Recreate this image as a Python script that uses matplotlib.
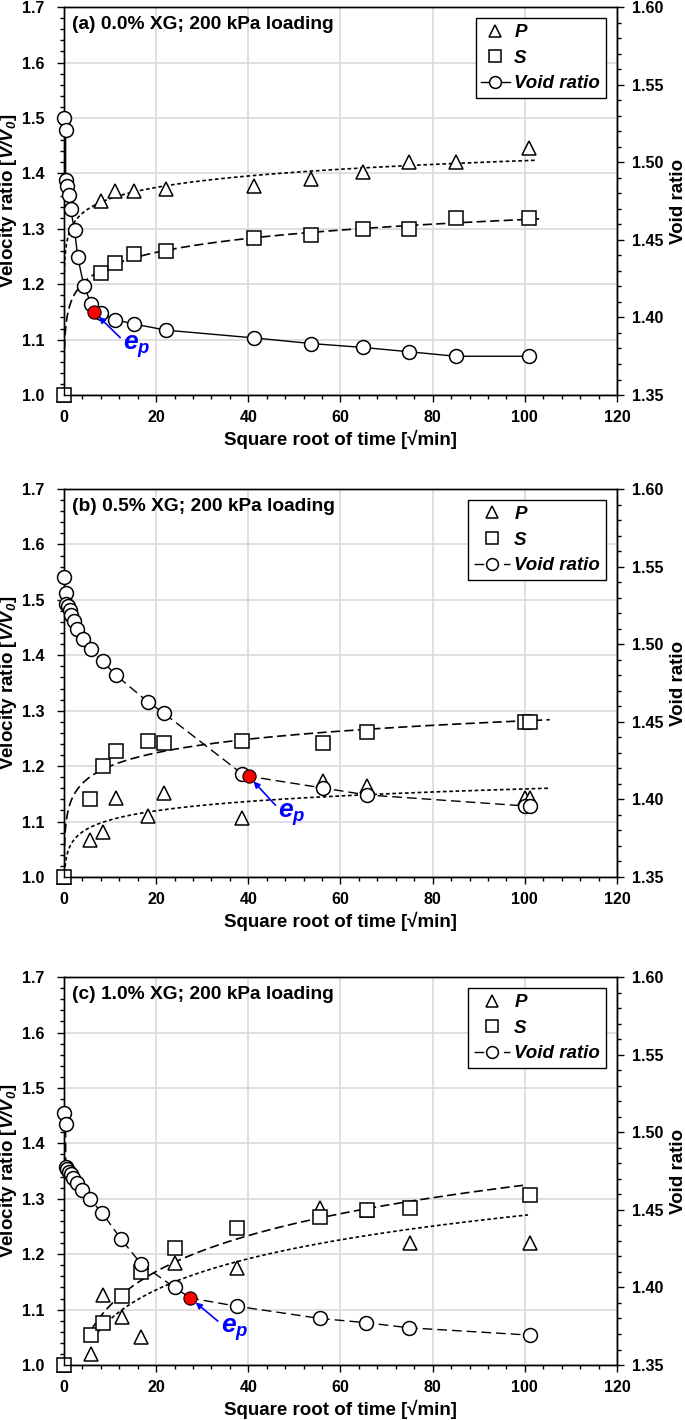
import numpy as np
import matplotlib as mpl
mpl.use('Agg')
import matplotlib.pyplot as plt
from matplotlib.lines import Line2D
from matplotlib.font_manager import FontProperties
from matplotlib.ticker import MultipleLocator, FormatStrFormatter

# ---- panel (a): 0.0% XG ----
a_t_vel = [0, 8.1, 11.0, 15.3, 22.2, 41.3, 53.6, 64.8, 74.9, 85.0, 100.9]
a_p = [1.0, 1.351, 1.368, 1.369, 1.372, 1.378, 1.389, 1.403, 1.420, 1.420, 1.446]
a_s = [1.0, 1.220, 1.239, 1.255, 1.260, 1.284, 1.288, 1.299, 1.299, 1.319, 1.319]
a_t_void = [0, 0.36, 0.36, 0.7, 1.0, 1.44, 2.3, 3.0, 4.3, 5.9, 6.5, 8.1, 11.0,
            15.3, 22.2, 41.3, 53.6, 64.8, 74.9, 85.0, 100.9]
a_void = [1.5287, 1.5210, 1.4884, 1.4846, 1.4786, 1.4696, 1.4561, 1.4389, 1.4204,
          1.4089, 1.4036, 1.4029, 1.3986, 1.3957, 1.3918, 1.3868, 1.3832, 1.3807,
          1.3779, 1.3750, 1.3750]
a_ep = 10  # index of e_p in a_void

# ---- panel (b): 0.5% XG ----
b_t_vel = [0, 5.7, 8.4, 11.3, 18.3, 21.6, 38.6, 56.1, 65.7, 100.0, 101.1]
b_p = [1.0, 1.067, 1.082, 1.143, 1.110, 1.152, 1.107, 1.173, 1.164, 1.142, 1.142]
b_s = [1.0, 1.141, 1.201, 1.228, 1.246, 1.242, 1.245, 1.242, 1.262, 1.280, 1.280]
b_t_void = [0, 0.36, 0.5, 0.87, 1.2, 1.6, 2.1, 2.9, 4.1, 5.8, 8.4, 11.3, 18.3,
            21.6, 38.6, 40.1, 56.1, 65.7, 100.0, 101.1]
b_void = [1.5431, 1.5330, 1.5261, 1.5244, 1.5222, 1.5190, 1.5147, 1.5098, 1.5034,
          1.4969, 1.4890, 1.4800, 1.4626, 1.4557, 1.4166, 1.4149, 1.4074, 1.4029,
          1.3958, 1.3957]
b_ep = 15

# ---- panel (c): 1.0% XG ----
c_t_vel = [0, 5.8, 8.4, 12.5, 16.8, 24.1, 37.5, 55.6, 65.7, 75.0, 101.1]
c_p = [1.0, 1.020, 1.126, 1.087, 1.051, 1.184, 1.176, 1.283, 1.280, 1.220, 1.220]
c_s = [1.0, 1.054, 1.075, 1.124, 1.168, 1.211, 1.247, 1.268, 1.279, 1.284, 1.307]
c_t_void = [0, 0.36, 0.4, 0.7, 1.1, 1.44, 1.95, 2.8, 4.0, 5.7, 8.3, 12.4, 16.8,
            24.0, 27.4, 37.5, 55.6, 65.5, 74.9, 101.1]
c_void = [1.5123, 1.5052, 1.4775, 1.4761, 1.4746, 1.4729, 1.4704, 1.4671, 1.4629,
          1.4568, 1.4479, 1.4311, 1.4150, 1.4000, 1.3932, 1.3879, 1.3800, 1.3773,
          1.3740, 1.3693]
c_ep = 14

# stylistic options
mpl.rcParams.update({
    "font.family": ["Liberation Sans", "DejaVu Sans"],
    "font.weight": "bold",
    "axes.labelweight": "bold",
    "mathtext.fontset": "custom",
    "mathtext.rm": "Liberation Sans:italic:bold",
    "mathtext.it": "Liberation Sans:italic:bold",
    "mathtext.bf": "Liberation Sans:italic:bold",
    "xtick.labelsize": 11.5,
    "ytick.labelsize": 11.5,
    "axes.labelsize": 13.5,
    "axes.linewidth": 1.0,
})

MS = 10
p_dash = (0, (2.2, 1.6))
s_dash = (0, (5.5, 2.6))
void_dash = (0, (7, 3.6))
leg_font = FontProperties(family="Liberation Sans", weight="bold", style="italic", size=13.5)


def power_fit(t, v, t0, t1):
    # excel-like power trendline y = a*x^b, fitted on the x>0 points
    t = np.asarray(t, float)
    v = np.asarray(v, float)
    m = t > 0
    b, ln_a = np.polyfit(np.log(t[m]), np.log(v[m]), 1)
    tt = np.geomspace(t0, t1, 400)
    return tt, np.exp(ln_a) * tt ** b


def draw_panel(rect, title, t_vel, p, s, t_void, void, ep, void_ls,
               p_range, s_range, ep_txt, hlen):
    ax = fig.add_axes(rect)
    ax2 = ax.twinx()

    # trendlines
    tt, yy = power_fit(t_vel, p, *p_range)
    ax.plot(tt, yy, color='black', lw=1.2, ls=p_dash)
    tt, yy = power_fit(t_vel, s, *s_range)
    ax.plot(tt, yy, color='black', lw=1.2, ls=s_dash)

    mk = dict(ls='none', mfc='white', mec='black', mew=1.1, ms=MS, clip_on=False)
    ax.plot(t_vel, p, marker='^', zorder=4, **mk)
    ax.plot(t_vel, s, marker='s', zorder=4, **mk)

    # void ratio
    ax2.plot(t_void, void, color='black', lw=1.0, ls=void_ls, zorder=2)
    keep = [i for i in range(len(void)) if i != ep]
    ax2.plot([t_void[i] for i in keep], [void[i] for i in keep], marker='o', zorder=3, **mk)
    ax2.plot(t_void[ep], void[ep], marker='o', ls='none', mfc='red', mec='black',
             mew=0.8, ms=MS - 0.5, zorder=5)
    ax2.annotate(r'$e_p$', xy=(t_void[ep], void[ep]), xytext=ep_txt,
                 textcoords=ax.transData, color='blue', fontsize=19,
                 ha='left', va='center',
                 arrowprops=dict(arrowstyle='-|>', color='blue', lw=1.2,
                                 mutation_scale=9, shrinkA=0, shrinkB=5,
                                 relpos=(0.0, 0.75)))

    ax.set_xlim(0, 120)
    ax.set_ylim(1.0, 1.7)
    ax2.set_ylim(1.35, 1.60)
    ax.xaxis.set_major_locator(MultipleLocator(20))
    ax.xaxis.set_minor_locator(MultipleLocator(4))
    ax.yaxis.set_major_locator(MultipleLocator(0.1))
    ax.yaxis.set_minor_locator(MultipleLocator(0.02))
    ax.yaxis.set_major_formatter(FormatStrFormatter('%.1f'))
    ax2.yaxis.set_major_locator(MultipleLocator(0.05))
    ax2.yaxis.set_minor_locator(MultipleLocator(0.01))
    ax2.yaxis.set_major_formatter(FormatStrFormatter('%.2f'))
    ax.tick_params(which='both', direction='out', width=1.0, top=False, right=False)
    ax.tick_params(which='major', length=5)
    ax.tick_params(which='minor', length=3)
    ax.tick_params(axis='y', pad=9)
    ax.tick_params(axis='x', pad=6)
    ax2.tick_params(which='both', direction='out', width=1.0, pad=6)
    ax2.tick_params(which='major', length=5)
    ax2.tick_params(which='minor', length=3)

    ax.grid(True, which='major', color='#d9d9d9', lw=1.2)
    ax.set_axisbelow(True)

    ax.set_xlabel('Square root of time [\u221amin]')
    ax.set_ylabel(r'Velocity ratio [$V/V_0$]')
    ax2.set_ylabel('Void ratio')
    ax.xaxis.set_label_coords(0.5, -0.089)
    ax.yaxis.set_label_coords(-0.082, 0.5)
    ax2.yaxis.set_label_coords(1.095, 0.5)

    ax.text(0.0145, 0.978, title, transform=ax.transAxes, ha='left', va='top',
            fontsize=13.8, fontweight='bold')

    handles = [
        Line2D([], [], ls='none', marker='^', mfc='white', mec='black', mew=1.1, ms=MS),
        Line2D([], [], ls='none', marker='s', mfc='white', mec='black', mew=1.1, ms=MS),
        Line2D([], [], ls=void_ls, color='black', lw=1.0, marker='o', mfc='white',
               mec='black', mew=1.1, ms=MS),
    ]
    leg = ax2.legend(handles, ['P', 'S', 'Void ratio'], loc='upper right', prop=leg_font,
                     frameon=True, fancybox=False, framealpha=1, edgecolor='black',
                     borderaxespad=0.6, borderpad=0.3, labelspacing=0.45,
                     handlelength=hlen, handletextpad=0.25, markerscale=0.85,
                     numpoints=1)
    leg.get_frame().set_linewidth(1.0)
    return ax, ax2


fig = plt.figure(figsize=(6.85, 14.2), dpi=100)

draw_panel([0.0934, 0.7218, 0.8073, 0.2732], '(a) 0.0% XG; 200 kPa loading',
           a_t_vel, a_p, a_s, a_t_void, a_void, a_ep, '-',
           (0.05, 102.5), (0.05, 103.1), (12.8, 1.0866), 1.5)
draw_panel([0.0934, 0.3824, 0.8073, 0.2732], '(b) 0.5% XG; 200 kPa loading',
           b_t_vel, b_p, b_s, b_t_void, b_void, b_ep, void_dash,
           (0.05, 105.5), (0.05, 105.4), (46.5, 1.112), 1.9)
draw_panel([0.0934, 0.0387, 0.8073, 0.2732], '(c) 1.0% XG; 200 kPa loading',
           c_t_vel, c_p, c_s, c_t_void, c_void, c_ep, void_dash,
           (5.8, 100.7), (5.8, 100.0), (34.0, 1.063), 1.9)

fig.savefig('out.png', dpi=100)
